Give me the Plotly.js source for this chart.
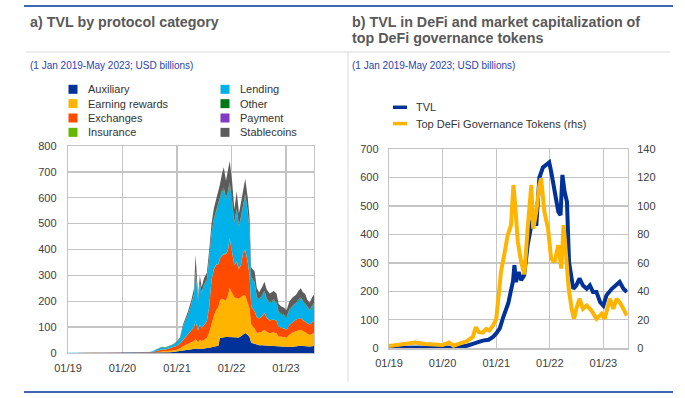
<!DOCTYPE html>
<html><head><meta charset="utf-8">
<script src="https://cdn.plot.ly/plotly-3.0.1.min.js"></script>
<style>html,body{margin:0;padding:0;background:#fff;}#chart{width:685px;height:398px;}</style>
</head><body><div id="chart"></div>
<script>
// ---------- DATA ----------
const panelTitleA = "a) TVL by protocol category";
const panelTitleB1 = "b) TVL in DeFi and market capitalization of";
const panelTitleB2 = "top DeFi governance tokens";
const subtitle = "(1 Jan 2019-May 2023; USD billions)";

const categories = ["Auxiliary","Earning rewards","Exchanges","Insurance","Lending","Other","Payment","Stablecoins"];
const categoryColors = ["#003299","#FFB400","#FF4B00","#65B800","#00B1EA","#007816","#8139C6","#5C5C5C"];

const xTickDates = ["2019-01-01","2020-01-01","2021-01-01","2022-01-01","2023-01-01"];
const xTickLabels = ["01/19","01/20","01/21","01/22","01/23"];

const dates = ["2019-01-01","2019-06-01","2020-01-01","2020-05-01","2020-06-20","2020-07-15","2020-08-10","2020-09-01","2020-09-20","2020-10-15",
"2020-11-10","2020-12-05","2021-01-01","2021-01-20","2021-02-10","2021-02-25","2021-03-15","2021-04-05","2021-04-25","2021-05-05",
"2021-05-12","2021-05-22","2021-06-03","2021-06-15","2021-07-01","2021-07-20","2021-08-05","2021-08-20","2021-09-05","2021-09-20",
"2021-10-05","2021-10-15","2021-10-28","2021-11-10","2021-11-25","2021-12-08","2021-12-20","2022-01-05","2022-01-20","2022-02-05",
"2022-02-20","2022-03-05","2022-03-20","2022-04-03","2022-04-20","2022-05-02","2022-05-13","2022-06-05","2022-06-20","2022-07-05",
"2022-07-25","2022-08-10","2022-08-25","2022-09-15","2022-10-10","2022-10-30","2022-11-12","2022-12-01","2022-12-20","2023-01-05",
"2023-01-25","2023-02-15","2023-03-10","2023-03-25","2023-04-10","2023-04-25","2023-05-10","2023-05-25","2023-06-10","2023-06-25","2023-07-08"];

const auxiliary = [0.1,0.1,0.1,0.2,0.3,0.5,1,2,2,2, 3,4,6,8,10,12,14,15,16,18, 17,15,17,16,17,18,20,22,24,26,
 28,58,60,62,62,62,62,62,60,62, 60,65,72,77,70,62,40,35,32,30, 30,30,29,28,27,26,24,23,22,22, 23,24,26,27,28,27,26,25,25,26,27];
const earningRewards = [0.1,0.1,0.1,0.2,0.4,1,2,3,4,4, 5,6,8,10,16,18,22,26,30,36, 32,27,33,30,34,40,60,90,120,140,
 150,145,150,145,140,160,190,170,155,150, 150,150,150,145,125,110,70,60,45,48, 52,60,52,48,52,50,40,40,40,38, 48,55,58,60,62,58,55,50,45,48,50];
const exchanges = [0.2,0.3,0.3,0.4,1,2,4,7,8,7, 9,11,14,18,26,30,36,44,54,70, 56,45,58,50,56,65,100,170,180,175,
 165,160,165,175,180,175,190,150,125,140, 115,125,165,175,155,130,70,65,60,55, 60,65,55,50,50,48,38,35,30,30, 38,40,45,45,45,42,40,38,38,45,48];
const insurance = [0,0,0,0,0,0,0.1,0.1,0.1,0.1, 0.2,0.2,0.3,0.4,0.5,0.5,0.6,0.7,0.8,1, 0.8,0.7,0.8,0.7,0.8,0.8,1,1,1.1,1.2,
 1.2,1.2,1.3,1.3,1.3,1.3,1.4,1.3,1.2,1.2, 1.2,1.2,1.3,1.3,1.2,1.1,0.8,0.8,0.7,0.7, 0.7,0.8,0.7,0.7,0.7,0.7,0.6,0.6,0.6,0.6, 0.6,0.6,0.6,0.7,0.7,0.7,0.7,0.6,0.6,0.6,0.6];
const lending = [0.3,0.4,0.4,0.6,1.1,2,4,6.5,8.5,7.5, 9.3,11,14,20,50,60,75,98,127,190, 158,115,160,135,155,157,185,177,190,200,
 230,230,244,250,210,220,210,200,160,200, 160,180,180,210,190,170,110,110,75,70, 77,80,70,67,73,68,55,50,52,45, 57,60,60,70,75,70,68,60,55,60,64];
const other = [0,0,0,0,0,0.1,0.2,0.3,0.3,0.3, 0.3,0.3,0.4,0.5,1,1,1,1.5,1.5,2, 1.5,1.5,2,1.5,2,2,2.5,3,3.5,4,
 4.5,5,5,5,5,5,6,5,5,5, 5,5,5,6,5,5,4,4,3.5,3.5, 3.5,4,3.5,3.5,3.5,3.5,3,3,3,3, 3,3,3,3.5,3.5,3.5,3.5,3,3,3,3];
const payment = [0,0,0,0,0,0,0,0,0,0, 0,0,0.1,0.1,0.1,0.1,0.1,0.2,0.2,0.2, 0.2,0.2,0.2,0.2,0.2,0.2,0.3,0.3,0.3,0.3,
 0.4,0.4,0.4,0.4,0.4,0.4,0.4,0.4,0.4,0.4, 0.4,0.4,0.4,0.4,0.4,0.4,0.3,0.3,0.3,0.3, 0.3,0.3,0.3,0.3,0.3,0.3,0.3,0.3,0.3,0.3, 0.3,0.3,0.3,0.3,0.3,0.3,0.3,0.3,0.3,0.3,0.3];
const stablecoins = [0.1,0.1,0.1,0.1,0.2,0.4,0.7,1.1,1.1,1.1, 1.2,1.5,2.2,3,6.4,8.4,11.3,14.6,20.5,62.8, 29.5,15.6,29,21.6,25,27,31.2,36.7,41.1,43.5,
 50.9,50.4,64.3,79.3,68.3,76.3,82.2,76.3,48.4,66.4, 48.4,53.4,54.3,58.3,53.4,46.5,34.9,39.9,33.5,27.5, 31.5,34.9,34.5,32.5,33.5,33.5,29.1,28.1,27.1,26.1, 30.1,32.1,32.1,33.5,35.5,33.5,34.5,28.1,28.1,32.1,32.1];
const categorySeries = [auxiliary, earningRewards, exchanges, insurance, lending, other, payment, stablecoins];

// Panel b
const tvlDates = ["2019-01-01","2019-04-01","2019-07-01","2019-10-01","2020-01-01","2020-03-15","2020-05-01","2020-06-15","2020-07-20","2020-08-25",
"2020-10-01","2020-11-10","2020-12-10","2021-01-01","2021-01-25","2021-02-15","2021-03-10","2021-03-25","2021-04-10","2021-04-25",
"2021-05-05","2021-05-15","2021-06-03","2021-06-20","2021-07-10","2021-08-03","2021-08-28","2021-09-20","2021-10-01","2021-10-22",
"2021-11-15","2021-12-10","2021-12-28","2022-01-10","2022-02-02","2022-02-28","2022-03-15","2022-03-28","2022-04-12","2022-04-28",
"2022-05-12","2022-05-25","2022-06-10","2022-07-01","2022-07-22","2022-08-15","2022-09-10","2022-10-01","2022-10-22","2022-11-15",
"2022-12-10","2023-01-01","2023-01-22","2023-02-28","2023-04-01","2023-04-22","2023-05-18","2023-06-10"];
const tvl = [2,3,4,3,3,2,5,9,15,22, 27,30,40,52,70,105,135,160,200,235, 292,233,268,239,256,362,433,480,430,600,
 635,647,653,621,562,480,468,609,550,515, 303,268,209,221,245,221,209,221,198,198, 162,150,186,209,221,233,209,198];

const govDates = ["2019-01-01","2019-03-01","2019-05-01","2019-07-01","2019-09-01","2019-11-01","2020-01-01","2020-02-15","2020-03-15","2020-05-01",
"2020-06-15","2020-07-25","2020-08-15","2020-09-05","2020-10-01","2020-10-25","2020-11-15","2020-12-10","2021-01-01","2021-01-22",
"2021-02-02","2021-02-28","2021-03-20","2021-04-12","2021-04-28","2021-05-10","2021-05-28","2021-06-20","2021-07-12","2021-08-03",
"2021-08-28","2021-09-10","2021-10-01","2021-10-22","2021-11-03","2021-11-25","2021-12-20","2022-01-10","2022-02-02","2022-02-28",
"2022-03-20","2022-04-05","2022-04-22","2022-05-10","2022-05-30","2022-06-15","2022-07-01","2022-07-22","2022-08-15","2022-09-10",
"2022-10-12","2022-11-15","2022-12-20","2023-01-10","2023-02-15","2023-03-10","2023-04-01","2023-04-22","2023-05-18","2023-06-10"];
const govTokens = [1.6,2.5,3,4,3,2.5,2.3,4,1.8,3.5, 5,8,14.8,11.3,11,13.6,12.5,16,20.7,41.8,
 53.6,67.7,79.4,86.5,114.7,100.6,74.7,60.6,52,84, 114.7,84,95.9,114.7,119.4,95.9,84,63,60.6,72.4,
 56,86.5,65,41.8,27.7,20.7,27.7,34.8,27.7,30, 26.5,20.7,24.2,20.7,34.8,27.7,34.8,32.4,27.7,23];
const seriesNamesB = ["TVL","Top DeFi Governance Tokens (rhs)"];
const seriesColorsB = ["#003299","#FFB400"];

// ---------- DRAWING ----------
const W = 685, H = 398;
const px = x => x / W, py = y => 1 - y / H;
const FONT = '"Liberation Sans", Arial, sans-serif';
const gridColor = "#c4c4c4";
const tickFont = {family: FONT, size: 11, color: "#404040"};

const traces = [];
categories.forEach((name, i) => {
  traces.push({
    type: "scatter", mode: "lines", name: name, x: dates, y: categorySeries[i],
    stackgroup: "tvl", line: {width: 0, color: categoryColors[i]}, fillcolor: categoryColors[i],
    xaxis: "x", yaxis: "y", showlegend: false, hoverinfo: "skip"
  });
});
traces.push({type: "scatter", mode: "lines", name: seriesNamesB[1], x: govDates, y: govTokens,
  line: {color: seriesColorsB[1], width: 4}, xaxis: "x2", yaxis: "y3", showlegend: false, hoverinfo: "skip"});
traces.push({type: "scatter", mode: "lines", name: seriesNamesB[0], x: tvlDates, y: tvl,
  line: {color: seriesColorsB[0], width: 4}, xaxis: "x2", yaxis: "y2", showlegend: false, hoverinfo: "skip"});

const axisCommon = {showgrid: true, gridcolor: gridColor, gridwidth: 1.3, showline: true, mirror: true,
  linecolor: gridColor, linewidth: 1.3, zeroline: false, ticks: "", tickfont: tickFont, fixedrange: true};

const shapes = [
  {type: "line", xref: "paper", yref: "paper", x0: px(24), x1: px(673), y0: py(6), y1: py(6), line: {color: "#003299", width: 1.5}},
  {type: "line", xref: "paper", yref: "paper", x0: px(26), x1: px(670), y0: py(52), y1: py(52), line: {color: "#d9d9d9", width: 1}},
  {type: "line", xref: "paper", yref: "paper", x0: px(348), x1: px(348), y0: py(52), y1: py(382), line: {color: "#d9d9d9", width: 1}},
  {type: "line", xref: "paper", yref: "paper", x0: px(24), x1: px(673), y0: py(392), y1: py(392), line: {color: "#003299", width: 1.5}}
];
const annotations = [
  {text: "<b>" + panelTitleA + "</b>", x: px(28), y: py(21.7), xanchor: "left", yanchor: "middle"},
  {text: "<b>" + panelTitleB1 + "</b>", x: px(350), y: py(21.7), xanchor: "left", yanchor: "middle"},
  {text: "<b>" + panelTitleB2 + "</b>", x: px(350), y: py(38.3), xanchor: "left", yanchor: "middle"}
].map(a => Object.assign(a, {xref: "paper", yref: "paper", showarrow: false, font: {family: FONT, size: 14.3, color: "#595959"}}));
[[28, subtitle], [350, subtitle]].forEach(([x, t]) => annotations.push({text: t, x: px(x), y: py(65.7), xref: "paper", yref: "paper",
  xanchor: "left", yanchor: "middle", showarrow: false, font: {family: FONT, size: 10, color: "#2a42b0"}}));

// legend a (two columns of four)
categories.forEach((name, i) => {
  const col = Math.floor(i / 4), row = i % 4;
  const sx = col === 0 ? 68.5 : 220.5;
  const tx = col === 0 ? 85.5 : 237.5;
  const cy = 89.3 + row * 14.35;
  shapes.push({type: "rect", xref: "paper", yref: "paper", x0: px(sx), x1: px(sx + 9), y0: py(cy - 4.5), y1: py(cy + 4.5),
    fillcolor: categoryColors[i], line: {width: 0}});
  annotations.push({text: name, x: px(tx), y: py(cy), xref: "paper", yref: "paper", xanchor: "left", yanchor: "middle",
    showarrow: false, font: {family: FONT, size: 11, color: "#333333"}});
});
// legend b
seriesNamesB.forEach((name, i) => {
  const cy = 107.3 + i * 16.3;
  shapes.push({type: "line", xref: "paper", yref: "paper", x0: px(393), x1: px(407), y0: py(cy), y1: py(cy),
    line: {color: seriesColorsB[i], width: 3.5}});
  annotations.push({text: name, x: px(414), y: py(cy), xref: "paper", yref: "paper", xanchor: "left", yanchor: "middle",
    showarrow: false, font: {family: FONT, size: 11, color: "#333333"}});
});

const layout = {
  width: W, height: H, margin: {l: 0, r: 0, t: 0, b: 0}, paper_bgcolor: "#ffffff", plot_bgcolor: "#ffffff",
  showlegend: false, font: {family: FONT},
  xaxis: Object.assign({}, axisCommon, {domain: [px(68), px(314)], anchor: "y", type: "date",
    range: ["2019-01-01", "2023-07-08"], tickvals: xTickDates, ticktext: xTickLabels, ticklabelstandoff: 4}),
  yaxis: Object.assign({}, axisCommon, {domain: [py(353), py(146)], anchor: "x", range: [0, 800], tickvals: [0,100,200,300,400,500,600,700,800], ticklabelstandoff: 8}),
  xaxis2: Object.assign({}, axisCommon, {domain: [px(389), px(627.7)], anchor: "y2", type: "date",
    range: ["2019-01-01", "2023-06-16"], tickvals: xTickDates, ticktext: xTickLabels, ticklabelstandoff: 4}),
  yaxis2: Object.assign({}, axisCommon, {domain: [py(348.3), py(149)], anchor: "x2", range: [0, 700], tickvals: [0,100,200,300,400,500,600,700], ticklabelstandoff: 7}),
  yaxis3: Object.assign({}, axisCommon, {overlaying: "y2", side: "right", anchor: "x2", range: [0, 140],
    tickvals: [0,20,40,60,80,100,120,140], showgrid: false, ticklabelstandoff: 6}),
  shapes: shapes, annotations: annotations
};

Plotly.newPlot("chart", traces, layout, {staticPlot: true, displayModeBar: false});
</script>
</body></html>
